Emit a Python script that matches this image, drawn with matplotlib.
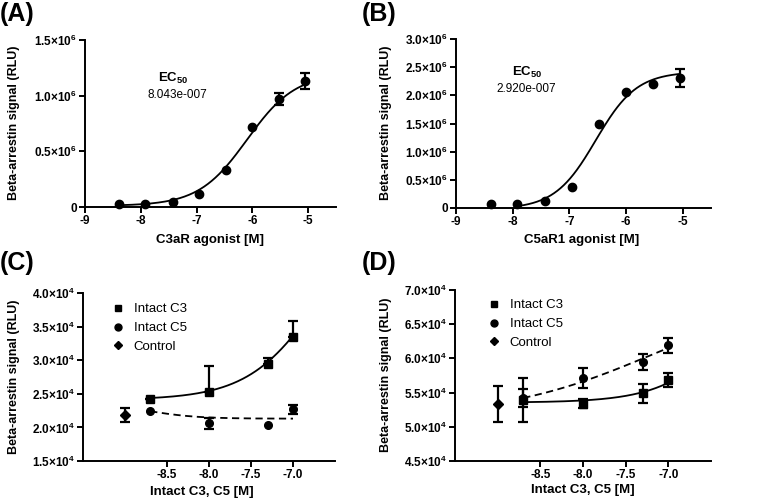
import numpy as np
import matplotlib
matplotlib.use("Agg")
import matplotlib.pyplot as plt

plt.rcParams['font.family'] = ['Liberation Sans', 'DejaVu Sans']
plt.rcParams['mathtext.fontset'] = 'custom'
plt.rcParams['mathtext.rm'] = 'Liberation Sans:bold'
plt.rcParams['mathtext.bf'] = 'Liberation Sans:bold'
plt.rcParams['mathtext.default'] = 'rm'

# ---------------- data (log molar, RLU) ----------------
agonist_logx = [-8.39, -7.92, -7.43, -6.96, -6.48, -6.0, -5.52, -5.05]

c3ar_y = [0.03e6, 0.03e6, 0.045e6, 0.12e6, 0.33e6, 0.72e6, 0.97e6, 1.13e6]
c3ar_err = [np.nan, np.nan, np.nan, np.nan, np.nan, np.nan, 0.055e6, 0.07e6]

c5ar1_y = [0.077e6, 0.065e6, 0.12e6, 0.38e6, 1.5e6, 2.06e6, 2.2e6, 2.31e6]
c5ar1_err = [np.nan, np.nan, np.nan, np.nan, np.nan, np.nan, np.nan, 0.16e6]

intact_logx = [-8.7, -8.0, -7.3, -7.0]
control_logx = [-9.0]

# panel C
c_c3_y = [2.43e4, 2.52e4, 2.94e4, 3.35e4]
c_c3_err = [0.0, 0.39e4, 0.10e4, 0.23e4]          # upper only
c_c5_y = [2.25e4, 2.06e4, 2.04e4, 2.27e4]
c_c5_err = [np.nan, 0.08e4, np.nan, 0.07e4]
c_ctrl_y = [2.19e4]
c_ctrl_err = [0.105e4]

# panel D
d_c3_y = [5.39e4, 5.34e4, 5.49e4, 5.68e4]
d_c3_err = [0.32e4, 0.06e4, 0.14e4, 0.10e4]
d_c5_y = [5.42e4, 5.71e4, 5.95e4, 6.19e4]
d_c5_err = [0.13e4, 0.145e4, 0.12e4, 0.11e4]
d_ctrl_y = [5.33e4]
d_ctrl_err = [0.265e4]

# fitted curve parameters: bottom, top, logEC50, hill, x range
fit_a = (0.01e6, 1.2e6, -6.095, 1.0, -8.39, -5.05)
fit_b = (-0.02e6, 2.42e6, -6.535, 1.2, -7.9, -5.05)
fit_c_c3 = (2.41e4, 5.5e4, -6.65, 1.0, -8.7, -7.0)
fit_c_c5 = (2.13e4, 2.35e4, -8.7, -1.5, -8.7, -7.0)
fit_d_c3 = (5.354e4, 8.55e4, -6.0, 1.0, -8.7, -7.0)
fit_d_c5 = (5.15e4, 6.95e4, -7.2, 0.5, -8.7, -7.0)

ec50_a = "8.043e-007"
ec50_b = "2.920e-007"


def curve(p):
    bottom, top, logec, hill, x0, x1 = p
    x = np.linspace(x0, x1, 200)
    return x, bottom + (top - bottom) / (1 + 10 ** ((logec - x) * hill))


W, H = 769, 501
fig = plt.figure(figsize=(W / 100, H / 100), dpi=100)


def px_axes(left, top, right, bottom):
    return fig.add_axes([left / W, 1 - bottom / H, (right - left) / W, (bottom - top) / H])


def style(ax):
    for s in ['top', 'right']:
        ax.spines[s].set_visible(False)
    for s in ['left', 'bottom']:
        ax.spines[s].set_linewidth(1.4)
    ax.tick_params(width=1.4, length=4, labelsize=8.5, pad=2)
    for lab in ax.get_xticklabels() + ax.get_yticklabels():
        lab.set_fontweight('bold')


def sci_labels(vals, exp):
    out = []
    for v in vals:
        if v == 0:
            out.append('0')
        else:
            out.append(r'$%.1f{\times}10^{%d}$' % (v / 10 ** exp, exp))
    return out


def points(ax, x, y, err, marker, ms, lower=None):
    if lower is None:
        yerr = err
    else:
        yerr = [lower, err]
    ax.errorbar(x, y, yerr=yerr, fmt='none', ecolor='black', elinewidth=1.6,
                capsize=3.5, capthick=1.6, zorder=3, clip_on=False)
    ax.plot(x, y, marker, color='black', ms=ms, zorder=4, clip_on=False)


# ---------------- A ----------------
axA = px_axes(85, 40, 336, 207)
x, y = curve(fit_a)
axA.plot(x, y, color='black', lw=1.3)
points(axA, agonist_logx, c3ar_y, c3ar_err, 'o', 6)
axA.set_xlim(-9, -4.5)
axA.set_ylim(0, 1.5e6)
axA.set_xticks([-9, -8, -7, -6, -5])
axA.set_xticklabels(['-9', '-8', '-7', '-6', '-5'])
ticks = [0, 0.5e6, 1.0e6, 1.5e6]
axA.set_yticks(ticks)
axA.set_yticklabels(sci_labels(ticks, 6))
style(axA)
axA.text(0.35, 0.772, r'EC$_{50}$', transform=axA.transAxes, ha='center', va='center',
         fontsize=9.5, fontweight='bold')
axA.text(0.37, 0.671, ec50_a, transform=axA.transAxes, ha='center', va='center', fontsize=8.5)

# ---------------- B ----------------
axB = px_axes(456, 39, 711, 208)
x, y = curve(fit_b)
axB.plot(x, y, color='black', lw=1.3)
points(axB, agonist_logx, c5ar1_y, c5ar1_err, 'o', 6)
axB.set_xlim(-9, -4.5)
axB.set_ylim(0, 3.0e6)
axB.set_xticks([-9, -8, -7, -6, -5])
axB.set_xticklabels(['-9', '-8', '-7', '-6', '-5'])
ticks = [0, 0.5e6, 1.0e6, 1.5e6, 2.0e6, 2.5e6, 3.0e6]
axB.set_yticks(ticks)
axB.set_yticklabels(sci_labels(ticks, 6))
style(axB)
axB.text(0.278, 0.80, r'EC$_{50}$', transform=axB.transAxes, ha='center', va='center',
         fontsize=9.5, fontweight='bold')
axB.text(0.275, 0.704, ec50_b, transform=axB.transAxes, ha='center', va='center', fontsize=8.5)

# ---------------- C ----------------
axC = px_axes(83, 293, 335, 461)
x, y = curve(fit_c_c3)
axC.plot(x, y, color='black', lw=1.3)
x, y = curve(fit_c_c5)
axC.plot(x, y, color='black', lw=1.3, dashes=(4, 2.5))
points(axC, intact_logx, c_c3_y, c_c3_err, 's', 5.5, lower=[0, 0, 0, 0])
points(axC, intact_logx, c_c5_y, c_c5_err, 'o', 5.5)
points(axC, control_logx, c_ctrl_y, c_ctrl_err, 'D', 5)
axC.set_xlim(-9.5, -6.5)
axC.set_ylim(1.5e4, 4.0e4)
ticks = [1.5e4, 2.0e4, 2.5e4, 3.0e4, 3.5e4, 4.0e4]
axC.set_yticks(ticks)
axC.set_yticklabels(sci_labels(ticks, 4))
axC.set_xticks([-8.5, -8.0, -7.5, -7.0])
axC.set_xticklabels(['-8.5', '-8.0', '-7.5', '-7.0'])
style(axC)

# ---------------- D ----------------
axD = px_axes(455, 290, 711, 461)
x, y = curve(fit_d_c3)
axD.plot(x, y, color='black', lw=1.3)
x, y = curve(fit_d_c5)
axD.plot(x, y, color='black', lw=1.3, dashes=(4, 2.5))
points(axD, intact_logx, d_c3_y, d_c3_err, 's', 5.5)
points(axD, intact_logx, d_c5_y, d_c5_err, 'o', 5.5)
points(axD, control_logx, d_ctrl_y, d_ctrl_err, 'D', 5)
axD.set_xlim(-9.5, -6.5)
axD.set_ylim(4.5e4, 7.0e4)
ticks = [4.5e4, 5.0e4, 5.5e4, 6.0e4, 6.5e4, 7.0e4]
axD.set_yticks(ticks)
axD.set_yticklabels(sci_labels(ticks, 4))
axD.set_xticks([-8.5, -8.0, -7.5, -7.0])
axD.set_xticklabels(['-8.5', '-8.0', '-7.5', '-7.0'])
style(axD)

# legends
for ax, anchor in ((axC, (0.06, 1.01)), (axD, (0.075, 1.016))):
    hs = [plt.Line2D([], [], marker=m, color='black', ls='none', ms=s)
          for m, s in (('s', 5), ('o', 5), ('D', 4.5))]
    ax.legend(hs, ['Intact C3', 'Intact C5', 'Control'], loc='upper left', frameon=False,
              fontsize=9.5, bbox_to_anchor=anchor, handletextpad=0.6, labelspacing=0.5,
              handlelength=1.2)

# axis labels
ylab = 'Beta-arrestin signal (RLU)'
for xp, yp in ((14, 123), (386, 123), (14, 377), (386, 375)):
    fig.text(xp / W, 1 - yp / H, ylab, rotation=90, ha='center', va='center',
             fontsize=9, fontweight='bold')
for xp, yp, t in ((210, 240, 'C3aR agonist [M]'), (582, 240, 'C5aR1 agonist [M]'),
                  (202, 492, 'Intact C3, C5 [M]'), (583, 490, 'Intact C3, C5 [M]')):
    fig.text(xp / W, 1 - yp / H, t, ha='center', va='center', fontsize=9.5, fontweight='bold')

# panel letters
for xp, yp, t in ((0, 2, '(A)'), (362, 2, '(B)'), (0, 251, '(C)'), (362, 251, '(D)')):
    fig.text(xp / W, 1 - yp / H, t, ha='left', va='top', fontsize=18, fontweight='bold')

fig.savefig('out.png', dpi=100)
